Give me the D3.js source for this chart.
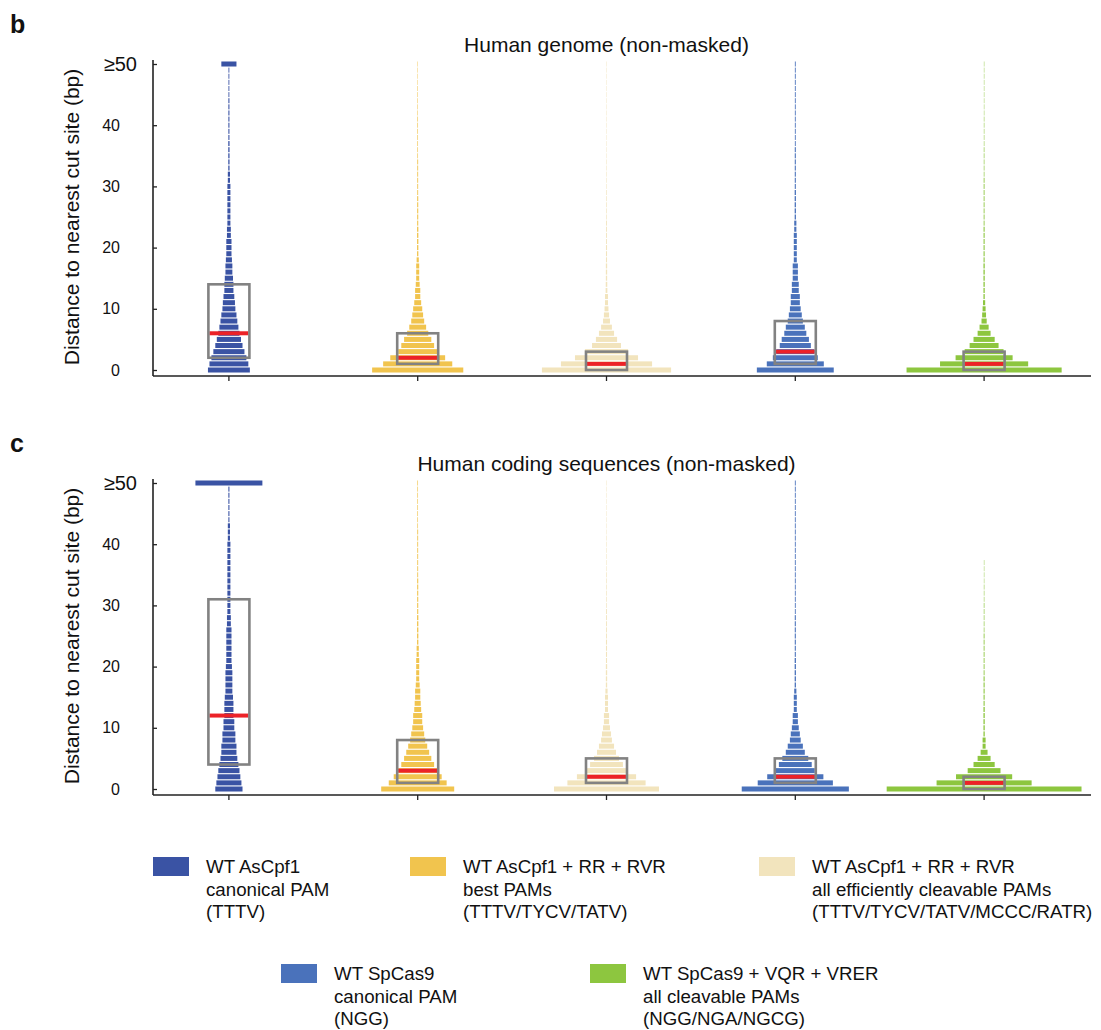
<!DOCTYPE html>
<html>
<head>
<meta charset="utf-8">
<script src="https://cdn.jsdelivr.net/npm/d3@7"></script>
<style>
  body { margin: 0; background: #fff; }
  svg text { font-family: "Liberation Sans", Arial, Helvetica, sans-serif; fill: #111; }
</style>
</head>
<body>
<svg id="chart" width="1101" height="1030"></svg>
<script>
// categories (one histogram per nuclease / PAM set)
const categories = ["AsCpf1 TTTV", "AsCpf1 RR RVR best", "AsCpf1 RR RVR all", "SpCas9 NGG", "SpCas9 VQR VRER"];
const colors = ["#3a53a4", "#f1c44e", "#f2e4bd", "#4a72bb", "#8dc63f"];

const yTicks = [0, 10, 20, 30, 40, 50];
const yTickLabels = ["0", "10", "20", "30", "40", "\u226550"];

// % of sites at distance 0..49 bp, last value = >=50 bp
// panel b: human genome
const genomeAsCpf1 = [9.7, 9.0, 8.1, 7.2, 6.3, 5.6, 4.9, 4.4, 3.9, 3.5, 3.0, 2.8, 2.5, 2.1, 2.1, 1.9, 1.6, 1.6, 1.4, 1.2,
  1.2, 1.2, 0.9, 0.9, 0.7, 0.7, 0.7, 0.7, 0.7, 0.7, 0.7, 0.5, 0.5, 0.3, 0.3, 0.3, 0.3, 0.3, 0.25, 0.25,
  0.25, 0.25, 0.25, 0.25, 0.25, 0.2, 0.2, 0.2, 0.2, 0.2, 3.5];
const genomeAsBest = [21.1, 16.0, 12.7, 9.0, 7.6, 6.3, 4.9, 3.9, 3.0, 2.5, 2.1, 1.6, 1.2, 1.2, 0.9, 0.7, 0.7, 0.7, 0.5, 0.3,
  0.3, 0.3, 0.3, 0.3, 0.25, 0.25, 0.25, 0.25, 0.25, 0.2, 0.2, 0.2, 0.2, 0.2, 0.2, 0.15, 0.15, 0.15, 0.15, 0.15,
  0.15, 0.15, 0.12, 0.12, 0.12, 0.12, 0.12, 0.1, 0.1, 0.1, 0.1];
const genomeAsAll = [29.9, 21.1, 14.6, 10.0, 6.7, 4.9, 3.5, 2.5, 1.6, 1.2, 0.9, 0.7, 0.7, 0.4, 0.35, 0.3, 0.3, 0.3, 0.25, 0.25,
  0.25, 0.2, 0.2, 0.2, 0.2, 0.15, 0.15, 0.15, 0.15, 0.15, 0.12, 0.12, 0.12, 0.12, 0.12, 0.1, 0.1, 0.1, 0.1, 0.1,
  0.1, 0.1, 0.1, 0.1, 0.1, 0.1, 0.1, 0.1, 0.1, 0.1, 0.1];
const genomeSpCas9 = [17.8, 13.2, 10.4, 8.8, 7.2, 6.3, 5.1, 4.4, 3.5, 3.0, 2.5, 2.1, 2.1, 1.6, 1.6, 1.2, 1.2, 1.2, 0.7, 0.7,
  0.7, 0.7, 0.7, 0.5, 0.5, 0.3, 0.3, 0.3, 0.3, 0.3, 0.25, 0.25, 0.25, 0.25, 0.25, 0.25, 0.25, 0.2, 0.2, 0.2,
  0.2, 0.2, 0.2, 0.2, 0.2, 0.2, 0.2, 0.2, 0.2, 0.2, 0.2];
const genomeSpAll = [35.9, 20.4, 13.2, 9.0, 6.7, 4.9, 3.0, 2.1, 1.2, 0.9, 0.7, 0.5, 0.3, 0.3, 0.3, 0.3, 0.3, 0.3, 0.25, 0.25,
  0.25, 0.25, 0.25, 0.25, 0.2, 0.2, 0.2, 0.2, 0.2, 0.2, 0.2, 0.2, 0.15, 0.15, 0.15, 0.15, 0.15, 0.12, 0.12, 0.12,
  0.12, 0.12, 0.1, 0.1, 0.1, 0.1, 0.1, 0.1, 0.1, 0.1, 0.1];

// panel c: human coding sequences
const codingAsCpf1 = [6.3, 5.8, 5.3, 4.9, 4.4, 3.9, 3.5, 3.5, 3.0, 3.0, 2.5, 2.5, 2.1, 2.1, 2.1, 1.9, 1.6, 1.6, 1.6, 1.6,
  1.4, 1.2, 1.2, 1.2, 1.2, 1.2, 1.2, 0.9, 0.9, 0.7, 0.7, 0.7, 0.7, 0.7, 0.7, 0.7, 0.7, 0.7, 0.7, 0.7,
  0.7, 0.5, 0.5, 0.5, 0.25, 0.25, 0.25, 0.25, 0.25, 0.25, 15.5];
const codingAsBest = [16.9, 13.4, 11.1, 9.0, 7.6, 6.3, 5.3, 4.4, 3.5, 3.0, 2.5, 2.1, 2.1, 1.6, 1.4, 1.2, 1.2, 0.9, 0.7, 0.7,
  0.7, 0.7, 0.5, 0.5, 0.3, 0.3, 0.3, 0.3, 0.3, 0.25, 0.25, 0.25, 0.25, 0.25, 0.25, 0.2, 0.2, 0.2, 0.2, 0.2,
  0.2, 0.2, 0.2, 0.15, 0.15, 0.15, 0.15, 0.15, 0.15, 0.15, 0.15];
const codingAsAll = [24.3, 18.1, 13.7, 9.0, 7.6, 5.8, 4.4, 3.5, 2.5, 2.1, 1.6, 1.2, 1.2, 0.7, 0.7, 0.7, 0.5, 0.3, 0.3, 0.3,
  0.3, 0.25, 0.25, 0.25, 0.25, 0.2, 0.2, 0.2, 0.2, 0.2, 0.15, 0.15, 0.15, 0.15, 0.15, 0.15, 0.12, 0.12, 0.12, 0.12,
  0.12, 0.12, 0.1, 0.1, 0.1, 0.1, 0.1, 0.1, 0.1, 0.1, 0.1];
const codingSpCas9 = [24.8, 17.4, 13.0, 9.0, 7.6, 6.0, 4.4, 3.5, 2.5, 2.1, 1.6, 1.2, 1.2, 0.7, 0.7, 0.7, 0.5, 0.3, 0.3, 0.3,
  0.3, 0.3, 0.25, 0.25, 0.25, 0.25, 0.25, 0.25, 0.25, 0.2, 0.2, 0.2, 0.2, 0.2, 0.2, 0.2, 0.2, 0.2, 0.2, 0.2,
  0.2, 0.2, 0.2, 0.2, 0.2, 0.2, 0.2, 0.2, 0.2, 0.2, 0.2];
const codingSpAll = [45.1, 22.0, 13.0, 7.6, 4.9, 3.0, 1.6, 0.7, 0.7, 0.3, 0.3, 0.3, 0.3, 0.3, 0.25, 0.25, 0.25, 0.25, 0.25, 0.2,
  0.2, 0.2, 0.2, 0.2, 0.2, 0.2, 0.15, 0.15, 0.15, 0.15, 0.15, 0.12, 0.12, 0.12, 0.1, 0.1, 0.1, 0.1, 0, 0,
  0, 0, 0, 0, 0, 0, 0, 0, 0, 0, 0];

// box plots: [Q1, median, Q3] in bp
const genomeBoxes = [[2, 6, 14], [1, 2, 6], [0, 1, 3], [1, 3, 8], [0, 1, 3]];
const codingBoxes = [[4, 12, 31], [1, 3, 8], [1, 2, 5], [1, 2, 5], [0, 1, 2]];

const legendItems = [
  ["WT AsCpf1", "canonical PAM", "(TTTV)"],
  ["WT AsCpf1 + RR + RVR", "best PAMs", "(TTTV/TYCV/TATV)"],
  ["WT AsCpf1 + RR + RVR", "all efficiently cleavable PAMs", "(TTTV/TYCV/TATV/MCCC/RATR)"],
  ["WT SpCas9", "canonical PAM", "(NGG)"],
  ["WT SpCas9 + VQR + VRER", "all cleavable PAMs", "(NGG/NGA/NGCG)"]
];

const svg = d3.select("#chart");

const x = d3.scaleBand().domain(categories).range([134.5, 1078.5]);
// bar width: % of sites
const w = d3.scaleLinear().domain([0, 100]).range([0, 432]);

function drawPanel(letter, title, top, dists, boxes) {
  const y = d3.scaleLinear().domain([0, 50]).range([top + 306, top]);
  const g = svg.append("g");
  const barH = (y(0) - y(1)) * 0.82;
  const axisY = y(0) + 6;

  g.append("text").attr("x", 10).attr("y", top - 31)
    .style("font-size", "25px").style("font-weight", "bold").text(letter);

  g.append("text").attr("x", x(categories[2]) + x.bandwidth() / 2).attr("y", top - 12)
    .attr("text-anchor", "middle").style("font-size", "21px").text(title);

  g.append("text")
    .attr("transform", "translate(79," + ((y(0) + y(50)) / 2) + ") rotate(-90)")
    .attr("text-anchor", "middle").style("font-size", "21px")
    .text("Distance to nearest cut site (bp)");

  // histogram bars
  dists.forEach((vals, ci) => {
    const cx = x(categories[ci]) + x.bandwidth() / 2;
    g.append("g").selectAll("rect")
      .data(vals.map((v, i) => ({ d: i, v: v })).filter(o => o.v > 0))
      .enter().append("rect")
      .attr("x", o => cx - w(o.v) / 2)
      .attr("width", o => w(o.v))
      .attr("y", o => y(o.d) - barH / 2)
      .attr("height", barH)
      .attr("fill", colors[ci]);
  });

  // box plots
  boxes.forEach((b, ci) => {
    const cx = x(categories[ci]) + x.bandwidth() / 2;
    g.append("rect")
      .attr("x", cx - 19.5).attr("width", 39)
      .attr("y", y(b[1]) - 2).attr("height", 4)
      .attr("fill", "#ec2228");
    g.append("rect")
      .attr("x", cx - 20.5).attr("width", 41)
      .attr("y", y(b[2])).attr("height", y(b[0]) - y(b[2]))
      .attr("fill", "none").attr("stroke", "#828282").attr("stroke-width", 2.6);
  });

  // y axis (inward ticks)
  const ya = g.append("g").attr("transform", "translate(153,0)")
    .call(d3.axisLeft(y).tickValues(yTicks).tickSize(-4).tickPadding(33)
      .tickFormat((d, i) => yTickLabels[i]));
  ya.select(".domain").remove();
  ya.selectAll("text").attr("fill", "#111")
    .style("font-size", (d, i) => yTickLabels[i].length > 2 ? "20px" : "16px")
    .attr("dx", (d, i) => yTickLabels[i].length > 2 ? "17" : "0");
  ya.selectAll("line").attr("stroke", "#222").attr("stroke-width", 1.3);

  // x axis
  const xa = g.append("g").attr("transform", "translate(0," + axisY + ")")
    .call(d3.axisBottom(x).tickSize(5).tickFormat(""));
  xa.select(".domain").remove();
  xa.selectAll("line").attr("stroke", "#222").attr("stroke-width", 1.3);

  g.append("line").attr("x1", 153).attr("x2", 153).attr("y1", y(50) - 4).attr("y2", axisY)
    .attr("stroke", "#222").attr("stroke-width", 1.6);
  g.append("line").attr("x1", 153).attr("x2", 1091).attr("y1", axisY).attr("y2", axisY)
    .attr("stroke", "#222").attr("stroke-width", 1.6);
}

drawPanel("b", "Human genome (non-masked)", 64,
  [genomeAsCpf1, genomeAsBest, genomeAsAll, genomeSpCas9, genomeSpAll], genomeBoxes);
drawPanel("c", "Human coding sequences (non-masked)", 483,
  [codingAsCpf1, codingAsBest, codingAsAll, codingSpCas9, codingSpAll], codingBoxes);

// legend
const legendPos = [[153, 857], [410, 857], [759, 857], [281, 964], [590, 964]];
const leg = svg.append("g");
legendItems.forEach((lines, i) => {
  const p = legendPos[i];
  leg.append("rect").attr("x", p[0]).attr("y", p[1]).attr("width", 36).attr("height", 19)
    .attr("fill", colors[i]);
  const t = leg.append("text").attr("x", p[0] + 53).attr("y", p[1] + 16).style("font-size", "18.7px");
  lines.forEach((s, j) => {
    t.append("tspan").attr("x", p[0] + 53).attr("dy", j === 0 ? 0 : 22.7).text(s);
  });
});
</script>
</body>
</html>
